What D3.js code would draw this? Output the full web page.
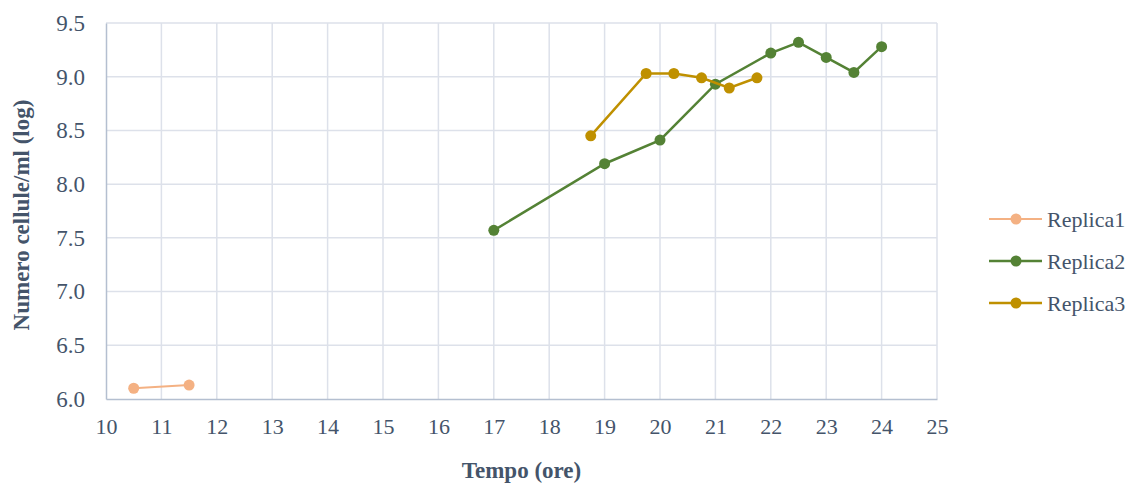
<!DOCTYPE html>
<html>
<head>
<meta charset="utf-8">
<script src="https://cdnjs.cloudflare.com/ajax/libs/d3/7.8.5/d3.min.js"></script>
<style>
  body { margin: 0; background: #fff; }
  text { font-family: "Liberation Serif", "Times New Roman", serif; fill: #44546a; }
</style>
</head>
<body>
<div id="chart"></div>
<script>
// data
var rep1Hours = [10.5, 11.5];
var rep1Log = [6.10, 6.13];
var rep2Hours = [17, 19, 20, 21, 22, 22.5, 23, 23.5, 24];
var rep2Log = [7.57, 8.19, 8.41, 8.93, 9.22, 9.32, 9.18, 9.04, 9.28];
var rep3Hours = [18.75, 19.75, 20.25, 20.75, 21.25, 21.75];
var rep3Log = [8.45, 9.03, 9.03, 8.99, 8.895, 8.99];
var seriesNames = ["Replica1", "Replica2", "Replica3"];
var seriesColors = ["#f4b183", "#548235", "#bf9000"];
var xTicks = d3.range(10, 26, 1);
var yTicks = [6.0, 6.5, 7.0, 7.5, 8.0, 8.5, 9.0, 9.5];

var width = 1134, height = 484;
var margin = {top: 23, right: 197, bottom: 85, left: 106};
var plotW = width - margin.left - margin.right,
    plotH = height - margin.top - margin.bottom;

var x = d3.scaleLinear().domain([10, 25]).range([0, plotW]);
var y = d3.scaleLinear().domain([6, 9.5]).range([plotH, 0]);

var svg = d3.select("#chart").append("svg")
  .attr("width", width)
  .attr("height", height);
var g = svg.append("g")
  .attr("transform", "translate(" + margin.left + "," + margin.top + ")");

// grid
g.append("g").selectAll("line")
  .data(xTicks.slice(1))
  .enter().append("line")
  .attr("x1", function (d) { return x(d); })
  .attr("x2", function (d) { return x(d); })
  .attr("y1", 0).attr("y2", plotH)
  .attr("stroke", "#dde1ea").attr("stroke-width", 1.5);
g.append("g").selectAll("line")
  .data(yTicks.slice(1))
  .enter().append("line")
  .attr("x1", 0).attr("x2", plotW)
  .attr("y1", function (d) { return y(d); })
  .attr("y2", function (d) { return y(d); })
  .attr("stroke", "#dde1ea").attr("stroke-width", 1.5);

// axes
var xAxis = d3.axisBottom(x).tickValues(xTicks).tickSize(0).tickPadding(19)
  .tickFormat(d3.format("d"));
var yAxis = d3.axisLeft(y).tickValues(yTicks).tickSize(0).tickPadding(21)
  .tickFormat(d3.format(".1f"));

var gx = g.append("g")
  .attr("transform", "translate(0," + plotH + ")")
  .call(xAxis);
gx.select(".domain").attr("stroke", "#b4bfd0").attr("stroke-width", 1.5);
gx.selectAll("text").style("font-size", "22px").attr("fill", "#44546a")
  .attr("font-family", "Liberation Serif");

var gy = g.append("g").call(yAxis);
gy.select(".domain").attr("stroke", "#b4bfd0").attr("stroke-width", 1.5);
gy.selectAll("text").style("font-size", "23px").attr("fill", "#44546a")
  .attr("font-family", "Liberation Serif");

// titles
svg.append("text")
  .attr("x", margin.left + plotW / 2)
  .attr("y", 478)
  .style("text-anchor", "middle")
  .style("font-size", "23px")
  .style("font-weight", "bold")
  .text("Tempo (ore)");
svg.append("text")
  .attr("transform", "translate(29," + (margin.top + plotH / 2 + 4) + ") rotate(-90)")
  .style("text-anchor", "middle")
  .style("font-size", "23px")
  .style("font-weight", "bold")
  .text("Numero cellule/ml (log)");

// series
var series = [
  {name: seriesNames[0], color: seriesColors[0], w: 2, pts: d3.zip(rep1Hours, rep1Log)},
  {name: seriesNames[1], color: seriesColors[1], w: 2.5, pts: d3.zip(rep2Hours, rep2Log)},
  {name: seriesNames[2], color: seriesColors[2], w: 2.5, pts: d3.zip(rep3Hours, rep3Log)}
];

var line = d3.line()
  .x(function (d) { return x(d[0]); })
  .y(function (d) { return y(d[1]); });

series.forEach(function (s) {
  g.append("path")
    .datum(s.pts)
    .attr("fill", "none")
    .attr("stroke", s.color)
    .attr("stroke-width", s.w)
    .attr("d", line);
  g.append("g").selectAll("circle")
    .data(s.pts)
    .enter().append("circle")
    .attr("cx", function (d) { return x(d[0]); })
    .attr("cy", function (d) { return y(d[1]); })
    .attr("r", 5.5)
    .attr("fill", s.color);
});

// legend
var legend = svg.append("g").attr("transform", "translate(989,219)");
series.forEach(function (s, i) {
  var row = legend.append("g").attr("transform", "translate(0," + (i * 42) + ")");
  row.append("line")
    .attr("x1", 0).attr("x2", 53)
    .attr("y1", 0).attr("y2", 0)
    .attr("stroke", s.color).attr("stroke-width", s.w);
  row.append("circle")
    .attr("cx", 27).attr("cy", 0).attr("r", 5.5)
    .attr("fill", s.color);
  row.append("text")
    .attr("x", 58).attr("y", 0)
    .attr("dy", "0.35em")
    .style("font-size", "22px")
    .text(s.name);
});
</script>
</body>
</html>
